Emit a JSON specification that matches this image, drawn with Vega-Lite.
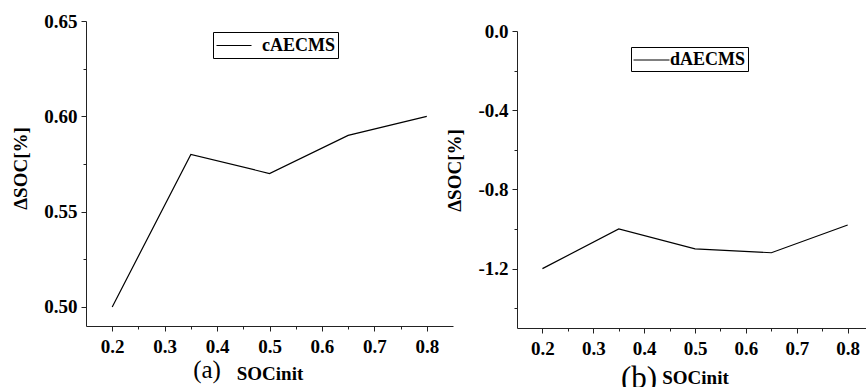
{
  "$schema": "https://vega.github.io/schema/vega-lite/v6.json",
  "padding": {"left": 11, "top": 12, "right": 0, "bottom": 0},
  "background": "white",
  "config": {
    "view": {"stroke": null},
    "axis": {
      "labelFont": "Liberation Serif", "labelFontSize": 19, "labelFontWeight": "bold", "labelColor": "black",
      "titleFont": "Liberation Serif", "titleFontSize": 19, "titleFontWeight": "bold", "titleColor": "black",
      "domainColor": "#222", "tickColor": "#222", "domainWidth": 1, "tickWidth": 1,
      "grid": false, "tickSize": 5, "labelPadding": 4
    },
    "legend": {
      "labelFont": "Liberation Serif", "labelFontSize": 18, "labelFontWeight": "bold", "labelColor": "black"
    },
    "title": {"font": "Liberation Serif", "fontSize": 25, "fontWeight": "normal", "color": "black"}
  },
  "datasets": {
    "a": [
      {"soc": 0.2, "dsoc": 0.50, "s": "cAECMS"},
      {"soc": 0.35, "dsoc": 0.58, "s": "cAECMS"},
      {"soc": 0.5, "dsoc": 0.57, "s": "cAECMS"},
      {"soc": 0.65, "dsoc": 0.59, "s": "cAECMS"},
      {"soc": 0.8, "dsoc": 0.60, "s": "cAECMS"}
    ],
    "b": [
      {"soc": 0.2, "dsoc": -1.20, "s": "dAECMS"},
      {"soc": 0.35, "dsoc": -1.00, "s": "dAECMS"},
      {"soc": 0.5, "dsoc": -1.10, "s": "dAECMS"},
      {"soc": 0.65, "dsoc": -1.12, "s": "dAECMS"},
      {"soc": 0.8, "dsoc": -0.98, "s": "dAECMS"}
    ]
  },
  "hconcat": [
    {
      "width": 367, "height": 305,
      "title": {"text": "(a)", "orient": "bottom", "anchor": "start", "align": "center", "dx": 121, "dy": -25, "offset": 0, "frame": "group"},
      "data": {"name": "a"},
      "layer": [
        {
          "mark": {"type": "line", "color": "black", "strokeWidth": 1.2},
          "encoding": {
            "x": {"field": "soc", "type": "quantitative", "scale": {"domain": [0.15, 0.85], "nice": false, "zero": false},
                  "axis": {"orient": "bottom", "values": [0.2, 0.3, 0.4, 0.5, 0.6, 0.7, 0.8], "format": ".1f", "title": "SOCinit", "labelPadding": 6, "titlePadding": 8}},
            "y": {"field": "dsoc", "type": "quantitative", "scale": {"domain": [0.49, 0.65], "nice": false, "zero": false},
                  "axis": {"orient": "left", "values": [0.5, 0.55, 0.6, 0.65], "format": ".2f", "title": "ΔSOC[%]", "titlePadding": 13, "titleY": 147}},
            "stroke": {"field": "s", "type": "nominal", "scale": {"range": ["black"]},
                       "legend": {"orient": "none", "legendX": 127, "legendY": 11, "title": null, "strokeColor": "black", "padding": 3, "symbolType": "M-1,0H2.5", "symbolSize": 400, "symbolStrokeWidth": 1, "symbolStrokeColor": "black", "symbolFillColor": "transparent", "labelOffset": 25, "fillColor": "white"}}
          }
        },
        {
          "mark": {"type": "line", "opacity": 0},
          "encoding": {
            "x": {"field": "soc", "type": "quantitative",
                  "axis": {"orient": "bottom", "values": [0.25, 0.35, 0.45, 0.55, 0.65, 0.75], "labels": false, "domain": false, "title": null, "tickSize": 3}},
            "y": {"field": "dsoc", "type": "quantitative",
                  "axis": {"orient": "left", "values": [0.525, 0.575, 0.625], "labels": false, "domain": false, "title": null, "tickSize": 3}}
          }
        }
      ],
      "resolve": {"axis": {"x": "independent", "y": "independent"}}
    },
    {
      "width": 349, "height": 307,
      "title": {"text": "(b)", "orient": "bottom", "anchor": "start", "align": "center", "dx": 122, "dy": -23, "offset": 0, "frame": "group", "fontSize": 31},
      "data": {"name": "b"},
      "layer": [
        {
          "mark": {"type": "line", "color": "black", "strokeWidth": 1.2},
          "encoding": {
            "x": {"field": "soc", "type": "quantitative", "scale": {"domain": [0.15, 0.836], "nice": false, "zero": false},
                  "axis": {"orient": "bottom", "values": [0.2, 0.3, 0.4, 0.5, 0.6, 0.7, 0.8], "format": ".1f", "title": "SOCinit", "labelPadding": 6, "titlePadding": 10, "titleX": 178}},
            "y": {"field": "dsoc", "type": "quantitative", "scale": {"domain": [-1.5, 0], "nice": false, "zero": false, "range": [307, 10]},
                  "axis": {"orient": "left", "values": [0, -0.4, -0.8, -1.2], "format": ".1f", "labelExpr": "replace(datum.label, '\u2212', '-')", "title": "ΔSOC[%]", "titlePadding": 13, "titleY": 149}},
            "stroke": {"field": "s", "type": "nominal", "scale": {"range": ["black"]},
                       "legend": {"orient": "none", "legendX": 114, "legendY": 26, "title": null, "strokeColor": "black", "padding": 2, "symbolType": "M-1,0H2.43", "symbolSize": 441, "symbolStrokeWidth": 1, "symbolStrokeColor": "black", "symbolFillColor": "transparent", "labelOffset": 15, "fillColor": "white"}}
          }
        },
        {
          "mark": {"type": "line", "opacity": 0},
          "encoding": {
            "x": {"field": "soc", "type": "quantitative",
                  "axis": {"orient": "bottom", "values": [0.25, 0.35, 0.45, 0.55, 0.65, 0.75], "labels": false, "domain": false, "title": null, "tickSize": 3}},
            "y": {"field": "dsoc", "type": "quantitative",
                  "axis": {"orient": "left", "values": [-0.2, -0.6, -1.0, -1.4], "labels": false, "domain": false, "title": null, "tickSize": 3}}
          }
        }
      ],
      "resolve": {"axis": {"x": "independent", "y": "independent"}}
    }
  ],
  "resolve": {"scale": {"stroke": "independent"}, "legend": {"stroke": "independent"}},
  "spacing": 64,
  "bounds": "flush"
}
